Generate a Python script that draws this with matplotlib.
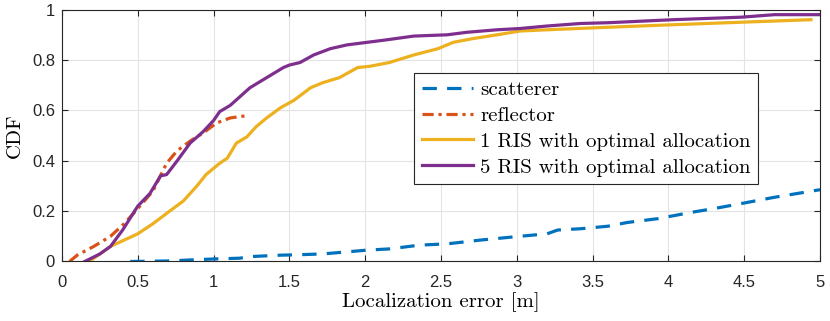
import numpy as np
import matplotlib
matplotlib.use('Agg')
import matplotlib.pyplot as plt

# CDF curves (x = localization error [m], y = CDF)
scat_x = [0.45, 0.69, 1.0, 1.17, 1.26, 1.44, 1.57, 1.72, 2.01, 2.16, 2.36, 2.54, 2.76, 3.02, 3.2, 3.27, 3.42, 3.6, 3.73, 3.93, 4.15, 4.3, 4.48, 4.7, 5.0]
scat_y = [0.0, 0.002, 0.01, 0.013, 0.02, 0.025, 0.027, 0.03, 0.045, 0.05, 0.065, 0.07, 0.085, 0.1, 0.11, 0.125, 0.13, 0.14, 0.155, 0.17, 0.195, 0.21, 0.23, 0.255, 0.285]

refl_x = [0.05, 0.1, 0.21, 0.32, 0.41, 0.5, 0.6, 0.69, 0.76, 0.85, 0.93, 1.02, 1.11, 1.23]
refl_y = [0.0, 0.025, 0.06, 0.1, 0.15, 0.21, 0.28, 0.39, 0.44, 0.48, 0.51, 0.55, 0.57, 0.58]

ris1_x = [0.18, 0.32, 0.5, 0.6, 0.71, 0.8, 0.89, 0.95, 1.04, 1.09, 1.15, 1.22, 1.28, 1.35, 1.44, 1.53, 1.64, 1.72, 1.83, 1.95, 2.03, 2.16, 2.32, 2.48, 2.58, 2.71, 2.87, 3.02, 3.2, 3.6, 4.03, 4.48, 4.94]
ris1_y = [0.0, 0.06, 0.11, 0.15, 0.2, 0.24, 0.3, 0.345, 0.39, 0.41, 0.47, 0.495, 0.535, 0.57, 0.61, 0.64, 0.69, 0.71, 0.73, 0.77, 0.775, 0.79, 0.82, 0.845, 0.87, 0.885, 0.9, 0.915, 0.92, 0.93, 0.94, 0.95, 0.96]

ris5_x = [0.15, 0.25, 0.32, 0.4, 0.5, 0.58, 0.65, 0.69, 0.76, 0.845, 0.93, 1.0, 1.04, 1.11, 1.24, 1.35, 1.46, 1.5, 1.57, 1.66, 1.77, 1.88, 2.01, 2.14, 2.32, 2.54, 2.67, 2.87, 3.02, 3.2, 3.42, 3.6, 4.03, 4.48, 4.7, 5.0]
ris5_y = [0.0, 0.03, 0.06, 0.125, 0.22, 0.27, 0.34, 0.345, 0.4, 0.47, 0.515, 0.56, 0.595, 0.62, 0.69, 0.73, 0.77, 0.78, 0.79, 0.82, 0.845, 0.86, 0.87, 0.88, 0.895, 0.9, 0.91, 0.92, 0.925, 0.935, 0.945, 0.948, 0.96, 0.97, 0.98, 0.98]

labels = ['scatterer', 'reflector', '1 RIS with optimal allocation', '5 RIS with optimal allocation']

fig = plt.figure(figsize=(8.3, 3.21), dpi=100)
ax = fig.add_axes([0.0747, 0.1854, 0.9133, 0.7846])

lw = 2.3
ax.plot(scat_x, scat_y, color='#0072BD', lw=lw, dashes=(4.5, 3.2), label=labels[0])
ax.plot(refl_x, refl_y, color='#D95319', lw=lw, dashes=(3.5, 1.5, 1, 1.5), label=labels[1])
ax.plot(ris1_x, ris1_y, color='#EDB120', lw=lw, label=labels[2])
ax.plot(ris5_x, ris5_y, color='#7E2F8E', lw=lw, label=labels[3])

ax.set_xlim(0, 5)
ax.set_ylim(0, 1)
ax.set_xticks(np.arange(0, 5.01, 0.5))
ax.set_xticklabels(['0', '0.5', '1', '1.5', '2', '2.5', '3', '3.5', '4', '4.5', '5'])
ax.set_yticks(np.arange(0, 1.01, 0.2))
ax.set_yticklabels(['0', '0.2', '0.4', '0.6', '0.8', '1'])
ax.grid(True, color='#e3e3e3', lw=0.8)
ax.set_axisbelow(True)
ax.tick_params(direction='in', length=4, width=0.8, colors='#262626', labelsize=12,
               top=True, right=True, pad=5)
ax.tick_params(axis='x', pad=10)
for lab in ax.get_xticklabels() + ax.get_yticklabels():
    lab.set_family('Liberation Sans')
for s in ax.spines.values():
    s.set_color('#262626')
    s.set_linewidth(0.8)

ax.set_xlabel('Localization error [m]', family='cmr10', fontsize=15, labelpad=1)
ax.set_ylabel('CDF', family='cmr10', fontsize=15, labelpad=6)

leg = ax.legend(loc='upper right', bbox_to_anchor=(0.918, 0.748), borderaxespad=0,
                prop={'family': 'cmr10', 'size': 15}, fancybox=False, framealpha=1,
                edgecolor='#262626', handlelength=2.45, handletextpad=0.35,
                labelspacing=0.35, borderpad=0.35)
leg.get_frame().set_linewidth(0.8)

fig.savefig('out.png', dpi=100)
